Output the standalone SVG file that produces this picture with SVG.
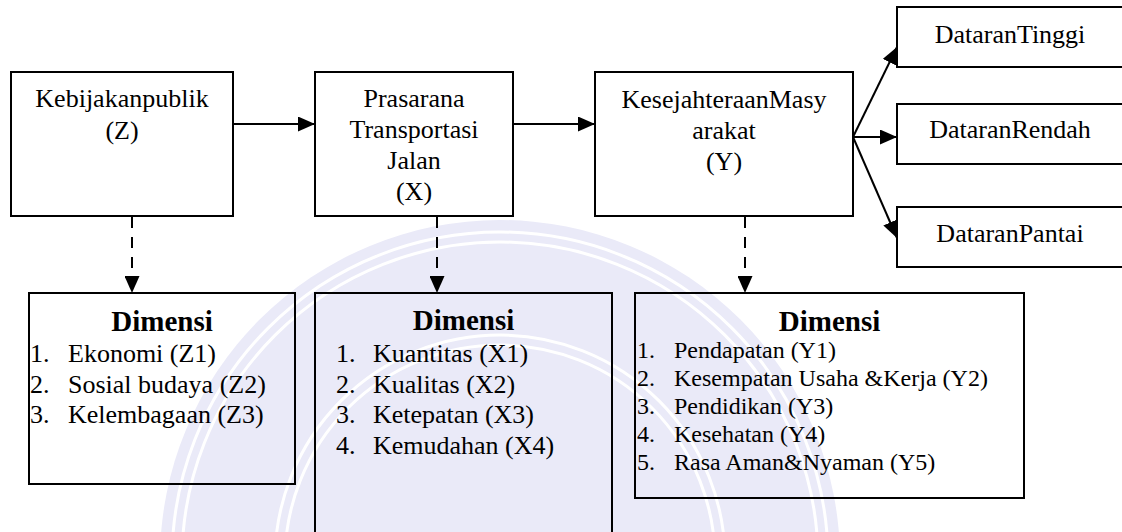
<svg xmlns="http://www.w3.org/2000/svg" width="1122" height="532" viewBox="0 0 1122 532">
  <style>
    .box { fill: none; stroke: #000; stroke-width: 2; }
    .wbox { fill: #fff; stroke: #000; stroke-width: 2; }
    .t { font-size: 26px; fill: #000; }
    .c { text-anchor: middle; }
    .h { font-weight: bold; font-size: 29px; }
    .s { font-size: 24px; }
    .ln { fill: none; stroke: #000; stroke-width: 2; }
    .dash { stroke-dasharray: 11 9; }
    .wm { fill: none; stroke: #fff; stroke-width: 3; }
  </style>
  <defs>
    <marker id="ah" markerUnits="userSpaceOnUse" markerWidth="17" markerHeight="15" refX="17" refY="7.5" orient="auto">
      <path d="M0,0 L17,7.5 L0,15 Z" fill="#000"/>
    </marker>
  </defs>
  <rect x="0" y="0" width="1122" height="532" fill="#fff"/>

  <g id="watermark">
    <circle cx="500" cy="560" r="340" fill="#eaeaf8"/>
    <circle class="wm" cx="500" cy="560" r="328"/>
    <circle class="wm" cx="500" cy="560" r="318"/>
    <circle class="wm" cx="500" cy="560" r="225"/>
    <circle class="wm" cx="500" cy="560" r="215"/>
  </g>

  <g id="connectors">
    <path class="ln" d="M233,124 H315" marker-end="url(#ah)"/>
    <path class="ln" d="M513,124 H595" marker-end="url(#ah)"/>
    <path class="ln" d="M853,137 L897,47" marker-end="url(#ah)"/>
    <path class="ln" d="M853,137 H897" marker-end="url(#ah)"/>
    <path class="ln" d="M853,137 L897,238" marker-end="url(#ah)"/>
    <path class="ln dash" d="M132,217 V293" marker-end="url(#ah)"/>
    <path class="ln dash" d="M437,217 V293" marker-end="url(#ah)"/>
    <path class="ln dash" d="M745,217 V293" marker-end="url(#ah)"/>
  </g>

  <g font-family="Liberation Serif, Times New Roman, serif">
  <g id="node-z">
    <rect class="wbox" x="11" y="72" width="222" height="144"/>
    <text class="t c" x="122" y="107">Kebijakanpublik</text>
    <text class="t c" x="122" y="139">(Z)</text>
  </g>

  <g id="node-x">
    <rect class="wbox" x="315" y="72" width="198" height="144"/>
    <text class="t c" x="414" y="107">Prasarana</text>
    <text class="t c" x="414" y="138">Transportasi</text>
    <text class="t c" x="414" y="169">Jalan</text>
    <text class="t c" x="414" y="200">(X)</text>
  </g>

  <g id="node-y">
    <rect class="wbox" x="595" y="72" width="258" height="144"/>
    <text class="t c" x="724" y="108">KesejahteraanMasy</text>
    <text class="t c" x="724" y="139">arakat</text>
    <text class="t c" x="724" y="170">(Y)</text>
  </g>

  <g id="node-tinggi">
    <rect class="wbox" x="897" y="7" width="228" height="60"/>
    <text class="t c" x="1010" y="43">DataranTinggi</text>
  </g>

  <g id="node-rendah">
    <rect class="wbox" x="897" y="104" width="228" height="60"/>
    <text class="t c" x="1010" y="138">DataranRendah</text>
  </g>

  <g id="node-pantai">
    <rect class="wbox" x="897" y="207" width="228" height="60"/>
    <text class="t c" x="1010" y="242">DataranPantai</text>
  </g>

  <g id="dim-z">
    <rect class="box" x="29" y="293" width="266" height="191"/>
    <text class="t c h" x="162" y="331">Dimensi</text>
    <text class="t" x="30" y="362">1.</text><text class="t" x="68" y="362">Ekonomi (Z1)</text>
    <text class="t" x="30" y="393">2.</text><text class="t" x="68" y="393">Sosial budaya (Z2)</text>
    <text class="t" x="30" y="423">3.</text><text class="t" x="68" y="423">Kelembagaan (Z3)</text>
  </g>

  <g id="dim-x">
    <rect class="box" x="315" y="293" width="297" height="260"/>
    <text class="t c h" x="463.5" y="330">Dimensi</text>
    <text class="t" x="336" y="362">1.</text><text class="t" x="373" y="362">Kuantitas (X1)</text>
    <text class="t" x="336" y="393">2.</text><text class="t" x="373" y="393">Kualitas (X2)</text>
    <text class="t" x="336" y="423">3.</text><text class="t" x="373" y="423">Ketepatan (X3)</text>
    <text class="t" x="336" y="454">4.</text><text class="t" x="373" y="454">Kemudahan (X4)</text>
  </g>

  <g id="dim-y">
    <rect class="box" x="635" y="293" width="389" height="205"/>
    <text class="t c h" x="829.5" y="331">Dimensi</text>
    <text class="t s" x="637" y="358">1.</text><text class="t s" x="674" y="358">Pendapatan (Y1)</text>
    <text class="t s" x="637" y="386">2.</text><text class="t s" x="674" y="386">Kesempatan Usaha &amp;Kerja (Y2)</text>
    <text class="t s" x="637" y="414">3.</text><text class="t s" x="674" y="414">Pendidikan (Y3)</text>
    <text class="t s" x="637" y="442">4.</text><text class="t s" x="674" y="442">Kesehatan (Y4)</text>
    <text class="t s" x="637" y="470">5.</text><text class="t s" x="674" y="470">Rasa Aman&amp;Nyaman (Y5)</text>
  </g>
  </g>
</svg>
